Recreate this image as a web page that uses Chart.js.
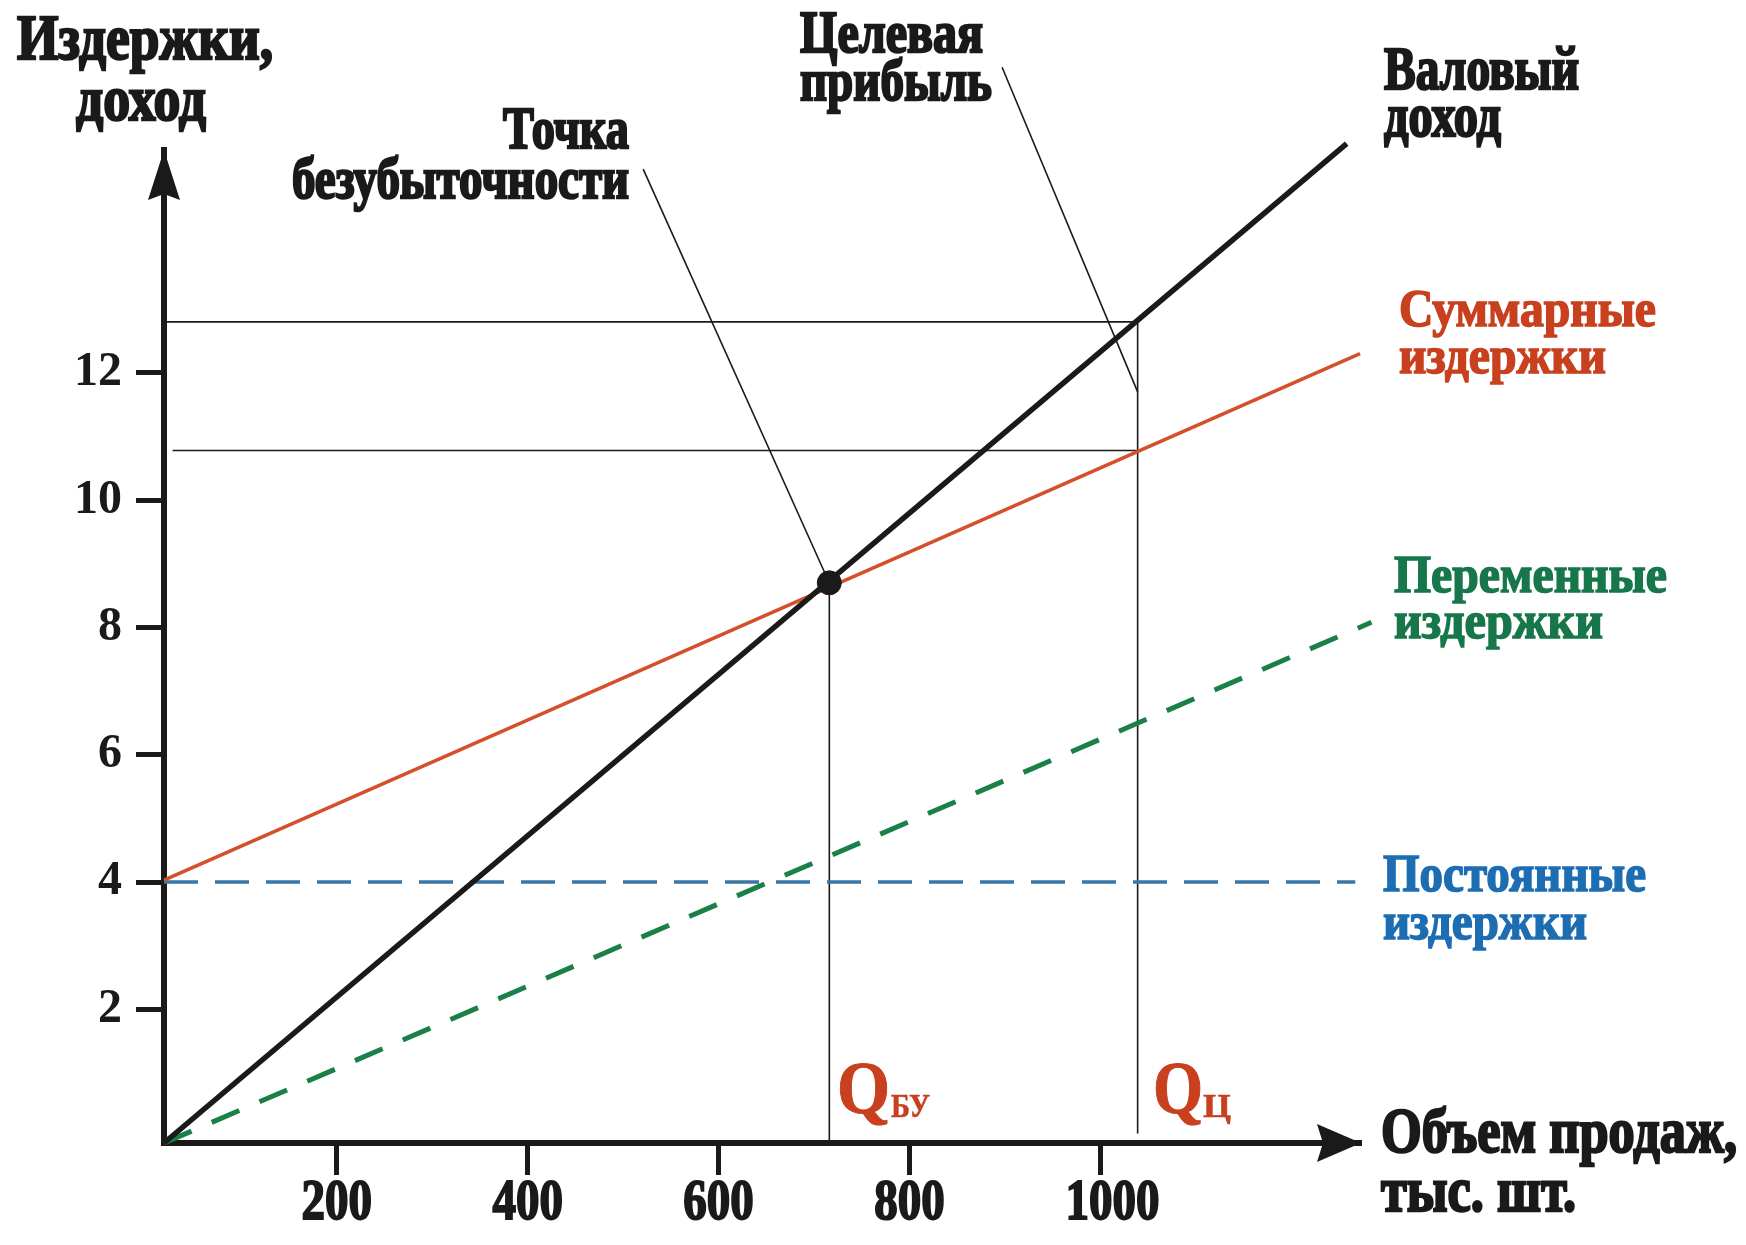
<!DOCTYPE html>
<html lang="ru">
<head>
<meta charset="UTF-8">
<title>Точка безубыточности</title>
<script src="https://cdn.jsdelivr.net/npm/chart.js"></script>
<style>
    body { margin: 0; background: #fff; }
    #wrap { width: 1746px; height: 1245px; }
</style>
</head>
<body>
<div id="wrap"><canvas id="chart" width="1746" height="1245"></canvas></div>
<script>
    // axes
    const xTicks = [200, 400, 600, 800, 1000];
    const yTicks = [2, 4, 6, 8, 10, 12];
    const xRange = [19, 1273];
    const yRange = [-0.1, 15.5];

    // lines, [volume, value]
    const revenue = [[19, -0.1], [1258, 15.6]];
    const totalCost = [[19, 4.03], [1272, 12.3]];
    const fixedCost = [[19, 4], [1267, 4]];
    const variableCost = [[19, -0.1], [1284, 8.08]];
    const breakEven = [[716, 8.7]];

    // guide lines
    const qBreakEven = [[716, 8.7], [716, -0.1]];
    const targetRevenue = [[19, 12.8], [1039, 12.8], [1039, 0.05]];
    const targetCost = [[28, 10.78], [1039, 10.78]];
    const leaderBreakEven = [[521, 15.2], [713, 8.8]];
    const leaderTarget = [[897, 16.8], [1039, 11.7]];

    const INK = '#1a1a1a';
    const RED = '#c8401e';
    const GREEN = '#17774a';
    const BLUE = '#1d6db3';

    const pts = arr => arr.map(([x, y]) => ({ x, y }));

    function lineDs(data, color, width, dash, order) {
        return {
            data: pts(data),
            borderColor: color,
            borderWidth: width,
            borderDash: dash || [],
            pointRadius: 0,
            fill: false,
            tension: 0,
            clip: false,
            order: order
        };
    }

    // text squeezed/stretched to a given width
    function fitText(ctx, text, left, baseline, width, size, color, heavy) {
        ctx.save();
        ctx.font = 'bold ' + size + 'px "Liberation Serif"';
        ctx.fillStyle = color;
        ctx.strokeStyle = color;
        ctx.textBaseline = 'alphabetic';
        ctx.textAlign = 'left';
        const w = ctx.measureText(text).width;
        ctx.translate(left, baseline);
        ctx.scale(width / w, 1);
        ctx.fillText(text, 0, 0);
        if (heavy) {
            ctx.lineWidth = heavy;
            ctx.strokeText(text, 0, 0);
        }
        ctx.restore();
    }

    const decor = {
        id: 'decor',
        afterDraw(chart) {
            const ctx = chart.ctx;
            const a = chart.chartArea;
            const xs = chart.scales.x;

            // arrow heads
            ctx.save();
            ctx.fillStyle = INK;
            ctx.beginPath();
            ctx.moveTo(a.left, a.top);
            ctx.lineTo(a.left + 16, a.top + 50);
            ctx.lineTo(a.left, a.top + 44);
            ctx.lineTo(a.left - 16, a.top + 50);
            ctx.closePath();
            ctx.fill();
            ctx.beginPath();
            ctx.moveTo(a.right, a.bottom);
            ctx.lineTo(a.right - 44, a.bottom - 19);
            ctx.lineTo(a.right - 38, a.bottom);
            ctx.lineTo(a.right - 44, a.bottom + 19);
            ctx.closePath();
            ctx.fill();
            ctx.restore();

            // x tick labels
            xTicks.forEach(v => {
                const px = xs.getPixelForValue(v);
                const txt = String(v);
                const w = txt.length * 23.5;
                const shift = txt.length > 3 ? 12 : 0;
                fitText(ctx, txt, px - w / 2 + shift, 1219, w, 58, INK, 2);
            });

            // axis titles and annotations
            fitText(ctx, 'Издержки,', 17, 59, 256, 64, INK, 2.5);
            fitText(ctx, 'доход', 76, 120, 130, 64, INK, 2.5);
            fitText(ctx, 'Точка', 503, 148, 126, 60, INK, 2.5);
            fitText(ctx, 'безубыточности', 292, 198, 337, 60, INK, 2.5);
            fitText(ctx, 'Целевая', 800, 52, 183, 60, INK, 2.5);
            fitText(ctx, 'прибыль', 800, 100, 192, 60, INK, 2.5);
            fitText(ctx, 'Валовый', 1384, 89, 195, 62, INK, 2.5);
            fitText(ctx, 'доход', 1384, 136, 117, 62, INK, 2.5);
            fitText(ctx, 'Объем продаж,', 1381, 1152, 356, 64, INK, 2.5);
            fitText(ctx, 'тыс. шт.', 1381, 1211, 195, 64, INK, 2.5);

            fitText(ctx, 'Суммарные', 1399, 326, 257, 52, RED, 1.6);
            fitText(ctx, 'издержки', 1399, 373, 207, 52, RED, 1.6);
            fitText(ctx, 'Переменные', 1394, 592, 273, 52, GREEN, 1.6);
            fitText(ctx, 'издержки', 1394, 638, 209, 52, GREEN, 1.6);
            fitText(ctx, 'Постоянные', 1383, 891, 263, 52, BLUE, 1.6);
            fitText(ctx, 'издержки', 1383, 939, 204, 52, BLUE, 1.6);

            fitText(ctx, 'Q', 837, 1113, 53, 74, RED, 1);
            fitText(ctx, 'БУ', 891, 1117, 39, 34, RED, 0.5);
            fitText(ctx, 'Q', 1153, 1113, 50, 74, RED, 1);
            fitText(ctx, 'Ц', 1203, 1117, 28, 34, RED, 0.5);
        }
    };

    const axisGrid = len => ({
        display: true,
        drawOnChartArea: false,
        drawTicks: true,
        tickLength: len,
        tickWidth: 5,
        tickColor: INK,
        color: INK
    });

    const chart = new Chart(document.getElementById('chart'), {
        type: 'line',
        data: {
            datasets: [
                {
                    data: pts(breakEven),
                    showLine: false,
                    pointRadius: 12,
                    pointBackgroundColor: INK,
                    pointBorderColor: INK,
                    clip: false,
                    order: 0
                },
                lineDs(revenue, INK, 5.5, null, 1),
                lineDs(totalCost, '#d4502a', 3.5, null, 2),
                lineDs(variableCost, '#1b8048', 5, [30, 22], 3),
                lineDs(fixedCost, '#3a76a6', 3.5, [34, 17], 4),
                lineDs(qBreakEven, INK, 1.6, null, 5),
                lineDs(targetRevenue, INK, 1.6, null, 5),
                lineDs(targetCost, INK, 1.6, null, 5),
                lineDs(leaderBreakEven, INK, 1.6, null, 5),
                lineDs(leaderTarget, INK, 1.6, null, 5)
            ]
        },
        options: {
            responsive: false,
            animation: false,
            layout: { padding: { top: 150, right: 385, left: 0, bottom: 0 } },
            plugins: {
                legend: { display: false },
                tooltip: { enabled: false }
            },
            scales: {
                x: {
                    type: 'linear',
                    min: xRange[0],
                    max: xRange[1],
                    afterBuildTicks: s => { s.ticks = xTicks.map(v => ({ value: v })); },
                    afterFit: s => { s.height = 102; },
                    grid: axisGrid(32),
                    border: { display: true, color: INK, width: 6 },
                    ticks: { display: false }
                },
                y: {
                    type: 'linear',
                    min: yRange[0],
                    max: yRange[1],
                    afterBuildTicks: s => { s.ticks = yTicks.map(v => ({ value: v })); },
                    afterFit: s => { s.width = 164; },
                    grid: axisGrid(28),
                    border: { display: true, color: INK, width: 6 },
                    ticks: {
                        color: INK,
                        padding: 14,
                        font: { family: 'Liberation Serif', size: 48, weight: 'bold' }
                    }
                }
            }
        },
        plugins: [decor]
    });
</script>
</body>
</html>
